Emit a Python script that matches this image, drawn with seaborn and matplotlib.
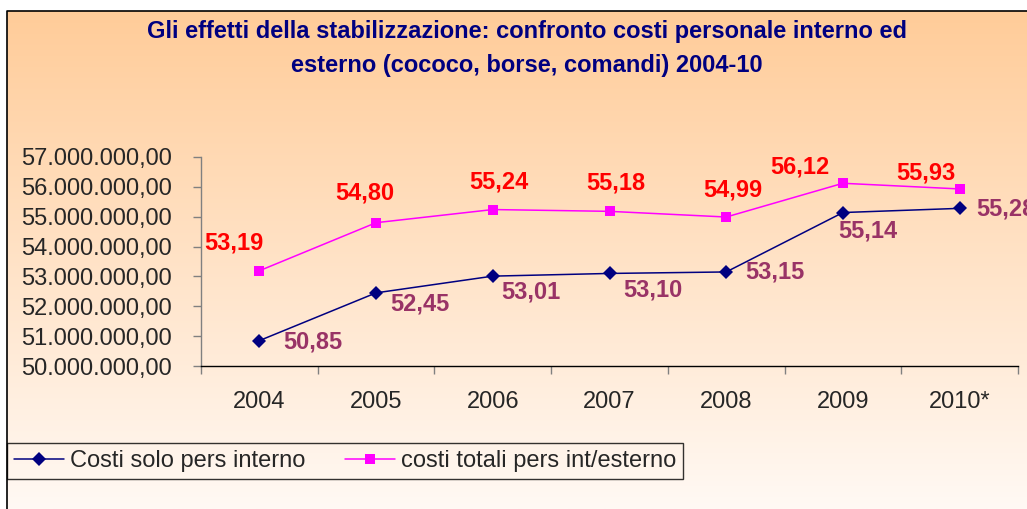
import numpy as np
import pandas as pd
import matplotlib
matplotlib.use("Agg")
import matplotlib.pyplot as plt
import seaborn as sns
from matplotlib.ticker import FuncFormatter, FixedLocator

# data (milioni di euro)
anni = ["2004", "2005", "2006", "2007", "2008", "2009", "2010*"]
costi_interno = [50.85, 52.45, 53.01, 53.10, 53.15, 55.14, 55.28]
costi_totali = [53.19, 54.80, 55.24, 55.18, 54.99, 56.12, 55.93]
serie_nomi = ["Costi solo pers interno", "costi totali pers int/esterno"]

# label placement (pixels from the marker), as in the original
off_interno = [(24, -1), (14, -11), (8, -16), (14, -17), (19, 0), (-5, -18), (17, -1)]
off_totali = [(-25, 28), (-11, 30), (6, 28), (6, 28), (7, 27), (-43, 16), (-34, 16)]

df = pd.DataFrame({
    "anno": anni * 2,
    "valore": [v * 1e6 for v in costi_interno] + [v * 1e6 for v in costi_totali],
    "serie": [serie_nomi[0]] * len(anni) + [serie_nomi[1]] * len(anni),
})

sns.set_style("white")
plt.rcParams["font.family"] = ["Liberation Sans", "DejaVu Sans"]

W, H = 1027, 509
fig = plt.figure(figsize=(W / 100, H / 100), dpi=100)

# gradient background + border of the chart area
bg = fig.add_axes([0, 0, 1, 1], zorder=-5)
bg.set_xlim(0, 1)
bg.set_ylim(0, 1)
bg.axis("off")
top = np.array([255, 204, 153]) / 255
bottom = np.array([255, 249, 244]) / 255
t = np.linspace(0, 1, 256)[:, None]
grad = top * (1 - t) + bottom * t
grad = np.repeat(grad[:, None, :], 2, axis=1)
x0, y1 = 7 / W, 1 - 11 / H
bg.imshow(grad, extent=[x0, 1.01, 0, y1], aspect="auto", origin="upper")
bg.plot([x0, x0, 1.01], [-0.01, y1, y1], color="black", lw=1.2)

ax = fig.add_axes([201 / W, 1 - 366 / H, (1018 - 201) / W, (366 - 157) / H])
ax.set_facecolor("none")

sns.lineplot(data=df, x="anno", y="valore", hue="serie", style="serie",
             palette=["#000080", "#FF00FF"], markers=["D", "s"], dashes=False,
             markersize=7, markeredgewidth=0, linewidth=1.1, ax=ax, legend=True)

ax.set_ylim(50e6, 57e6)
ax.set_xlim(-0.5, len(anni) - 0.5)
ax.set_yticks(np.arange(50e6, 57.5e6, 1e6))
ax.yaxis.set_major_formatter(FuncFormatter(
    lambda v, p: f"{v:,.2f}".replace(",", "X").replace(".", ",").replace("X", ".")))
ax.tick_params(axis="y", length=6, width=1, color="#808080", direction="out",
               labelsize=17, pad=15, left=True)

# category boundaries as major ticks, labels on minor ticks
ax.xaxis.set_major_locator(FixedLocator(np.arange(-0.5, len(anni), 1)))
ax.xaxis.set_major_formatter(FuncFormatter(lambda v, p: ""))
ax.set_xticks(np.arange(len(anni)), anni, minor=True)
ax.tick_params(axis="x", which="major", length=6, width=1, color="#808080",
               direction="out", bottom=True)
ax.tick_params(axis="x", which="minor", length=0, labelsize=17, pad=18)
ax.set_xlabel("")
ax.set_ylabel("")

for s in ["top", "right"]:
    ax.spines[s].set_visible(False)
ax.spines["left"].set_color("#808080")
ax.spines["bottom"].set_color("black")
ax.spines["left"].set_linewidth(1)
ax.spines["bottom"].set_linewidth(1)

for i, v in enumerate(costi_totali):
    ax.annotate(f"{v:.2f}".replace(".", ","), (i, v * 1e6), xytext=off_totali[i],
                textcoords="offset pixels", ha="center", va="center",
                color="#FF0000", fontsize=17, fontweight="bold")
for i, v in enumerate(costi_interno):
    ax.annotate(f"{v:.2f}".replace(".", ","), (i, v * 1e6), xytext=off_interno[i],
                textcoords="offset pixels", ha="left", va="center",
                color="#993366", fontsize=17, fontweight="bold",
                annotation_clip=False)

handles, labels = ax.get_legend_handles_labels()
ax.get_legend().remove()
leg = fig.legend(handles, labels, loc="upper left", ncol=2,
                 bbox_to_anchor=(x0, 1 - 443 / H),
                 fontsize=17, frameon=True, fancybox=False, handlelength=2.1,
                 handletextpad=0.25, columnspacing=1.7, borderpad=0.3,
                 borderaxespad=0)
leg.get_frame().set_facecolor("none")
leg.get_frame().set_edgecolor("black")
leg.get_frame().set_linewidth(1)

fig.text(527 / W, 1 - 48.5 / H,
         "Gli effetti della stabilizzazione: confronto costi personale interno ed\n"
         "esterno (cococo, borse, comandi) 2004-10",
         ha="center", va="center", color="#000080", fontsize=17,
         fontweight="bold", linespacing=1.6)

fig.savefig("out.png", dpi=100)
